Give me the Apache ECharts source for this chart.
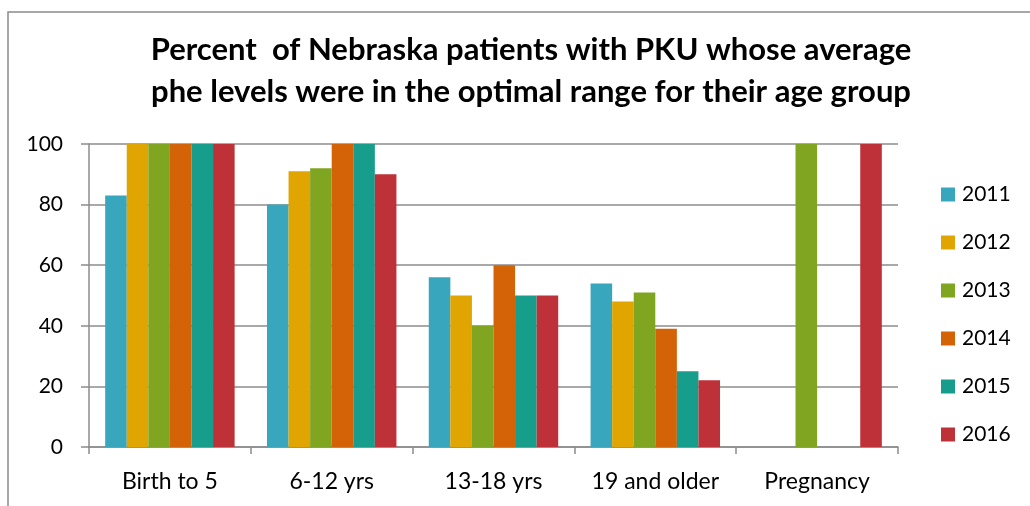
<!DOCTYPE html>
<html>
<head>
<meta charset="utf-8">
<script src="https://cdn.jsdelivr.net/npm/echarts@6/dist/echarts.min.js"></script>
<style>
  html, body { margin: 0; padding: 0; background: #fff; }
  #chart { width: 1030px; height: 506px; }
</style>
</head>
<body>
<div id="chart"></div>
<script>
var categories = ['Birth to 5', '6-12 yrs', '13-18 yrs', '19 and older', 'Pregnancy'];
var years = ['2011', '2012', '2013', '2014', '2015', '2016'];
var colors = ['#38a6bc', '#e0a500', '#80a520', '#d36306', '#169d8c', '#be3138'];

var v2011 = [83, 80, 56, 54, null];
var v2012 = [100, 91, 50, 48, null];
var v2013 = [100, 92, 40, 51, 100];
var v2014 = [100, 100, 60, 39, null];
var v2015 = [100, 100, 50, 25, null];
var v2016 = [100, 90, 50, 22, 100];
var yTicks = [0, 20, 40, 60, 80, 100];

var allValues = [v2011, v2012, v2013, v2014, v2015, v2016];
var font = 'Lato, "Open Sans", sans-serif';

var series = years.map(function (y, i) {
  return {
    name: y,
    type: 'bar',
    data: allValues[i],
    barGap: '0%',
    barCategoryGap: '20%',
    itemStyle: { color: colors[i] }
  };
});

var chart = echarts.init(document.getElementById('chart'));
chart.setOption({
  animation: false,
  color: colors,
  title: {
    text: 'Percent  of Nebraska patients with PKU whose average\nphe levels were in the optimal range for their age group',
    left: 526,
    top: 24,
    textAlign: 'center',
    textStyle: {
      fontFamily: font,
      fontWeight: 'bold',
      fontSize: 31,
      lineHeight: 42,
      color: '#000'
    }
  },
  graphic: [{
    type: 'rect',
    shape: { x: 8, y: 12, width: 1100, height: 600 },
    style: { fill: 'none', stroke: '#8a8a8a', lineWidth: 1.5 }
  }],
  legend: {
    orient: 'vertical',
    left: 936,
    top: 179,
    itemWidth: 14,
    itemHeight: 14,
    itemGap: 27,
    icon: 'rect',
    data: years,
    textStyle: { fontFamily: font, fontSize: 21, color: '#000', padding: [0, 0, 0, 2] }
  },
  grid: { left: 89, right: 132, top: 144, bottom: 59 },
  xAxis: {
    type: 'category',
    data: categories,
    axisLine: { lineStyle: { color: '#8c8c8c', width: 1.5 } },
    axisTick: { show: true, interval: 0, length: 7, lineStyle: { color: '#8c8c8c', width: 1.5 } },
    axisLabel: { interval: 0, hideOverlap: false, fontFamily: font, fontSize: 23, color: '#000', margin: 23 }
  },
  yAxis: {
    type: 'value',
    min: 0,
    max: 100,
    interval: 20,
    axisLine: { show: true, lineStyle: { color: '#8c8c8c', width: 1.5 } },
    axisTick: { show: true, length: 8, lineStyle: { color: '#8c8c8c', width: 1.5 } },
    splitLine: { lineStyle: { color: '#8c8c8c', width: 1.5 } },
    axisLabel: {
      fontFamily: font, fontSize: 21, color: '#000', margin: 26,
      formatter: function (v) { return yTicks.indexOf(v) >= 0 ? String(v) : ''; }
    }
  },
  series: series
});
</script>
</body>
</html>
